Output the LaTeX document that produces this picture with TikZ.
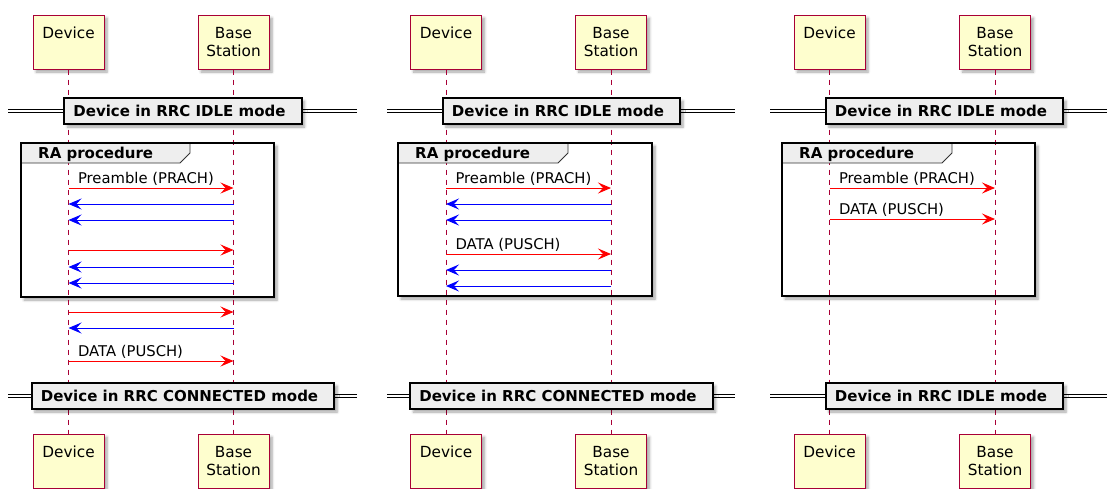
\documentclass[tikz,border=0pt]{standalone}
\usepackage{fontspec}
\setmainfont{DejaVu Sans}
\usetikzlibrary{arrows.meta, shadows.blur}
\definecolor{lifered}{HTML}{A80036}
\definecolor{partyellow}{HTML}{FEFECE}
\definecolor{bargray}{HTML}{EEEEEE}
\definecolor{ulred}{HTML}{FF0000}
\definecolor{dlblue}{HTML}{0000FF}
\newcommand{\partfont}{\fontsize{15.3}{18}\selectfont}
\newcommand{\msgfont}{\fontsize{14.8}{17}\selectfont}
\newcommand{\barfont}{\fontsize{15}{18}\selectfont\bfseries}

\begin{document}
\begin{tikzpicture}[x=1pt, y=-1pt, >={Stealth[length=13pt, width=11pt, inset=5pt]},
  shade box/.style={blur shadow={shadow xshift=3pt, shadow yshift=-3pt,
    shadow blur radius=2.5pt, shadow blur steps=6, shadow opacity=35}},
  part/.style={draw=lifered, fill=partyellow, line width=1pt, minimum width=71pt,
    minimum height=54pt, inner sep=0pt, align=center, font=\partfont, shade box},
  lifeline/.style={draw=lifered, line width=0.9pt, dash pattern=on 5pt off 5pt},
  separator/.style={line width=1.2pt, double=white, double distance=2pt},
  divider/.style={draw=black, line width=2pt, fill=bargray, minimum height=26pt,
    inner xsep=9pt, inner ysep=0pt, font=\barfont,
    execute at end node={\hspace{7pt}}, shade box},
  frame/.style={draw=black, line width=2pt},
  tab/.style={draw=black!80, line width=0.8pt, fill=bargray},
  grouptitle/.style={anchor=base west, inner sep=0pt, font=\barfont},
  uplink/.style={->, ulred, line width=1pt},
  downlink/.style={->, dlblue, line width=1pt},
  msg/.style={pos=0, anchor=base west, xshift=9pt, yshift=4.5pt, inner sep=0pt,
    font=\msgfont, text=black}
]
  \useasboundingbox (0,0) rectangle (1107,488);

  %% ---------------- left panel: four-step RA ----------------
  \node[part] (devA)  at (68.5,42)  {Device\\\mbox{}};
  \node[part] (bsA)   at (233.5,42) {Base\\Station};
  \node[part] (devAe) at (68.5,461) {Device\\\mbox{}};
  \node[part] (bsAe)  at (233.5,461) {Base\\Station};

  % group background, then lifelines through it
  \fill[white, shade box] (21,143) rectangle (274,297);
  \draw[lifeline] (devA) -- (devAe);
  \draw[lifeline] (bsA) -- (bsAe);
  \filldraw[tab] (21,143) -- (190,143) -- (190,153) -- (180,163) -- (21,163) -- cycle;
  \draw[frame] (21,143) rectangle (274,297);
  \node[grouptitle] (raA) at (38,158) {RA procedure};

  % state bars
  \draw[separator] (8,111) -- (357,111);
  \node[divider] (idleA) at (183,111) {Device in RRC IDLE mode};
  \draw[separator] (8,396) -- (357,396);
  \node[divider] (connA) at (183,396) {Device in RRC CONNECTED mode};

  % messages
  \foreach \y [count=\i] in {188,204,220,250,267,283,312,328,361} {
    \coordinate (dA\i) at (devA |- 0,\y);
    \coordinate (bA\i) at (bsA |- 0,\y);
  }
  \draw[uplink] (dA1) -- node[msg] (preA) {Preamble (PRACH)} (bA1);
  \draw[downlink] (bA2) -- (dA2);
  \draw[downlink] (bA3) -- (dA3);
  \draw[uplink] (dA4) -- (bA4);
  \draw[downlink] (bA5) -- (dA5);
  \draw[downlink] (bA6) -- (dA6);
  \draw[uplink] (dA7) -- (bA7);
  \draw[downlink] (bA8) -- (dA8);
  \draw[uplink] (dA9) -- node[msg] (dataA) {DATA (PUSCH)} (bA9);

  %% ---------------- middle panel: data inside RA ----------------
  \node[part] (devB)  at (446,42)  {Device\\\mbox{}};
  \node[part] (bsB)   at (611,42)  {Base\\Station};
  \node[part] (devBe) at (446,461) {Device\\\mbox{}};
  \node[part] (bsBe)  at (611,461) {Base\\Station};

  \fill[white, shade box] (398,143) rectangle (652,296);
  \draw[lifeline] (devB) -- (devBe);
  \draw[lifeline] (bsB) -- (bsBe);
  \filldraw[tab] (398,143) -- (568,143) -- (568,153) -- (558,163) -- (398,163) -- cycle;
  \draw[frame] (398,143) rectangle (652,296);
  \node[grouptitle] (raB) at (415,158) {RA procedure};

  \draw[separator] (387,111) -- (735,111);
  \node[divider] (idleB) at (561.5,111) {Device in RRC IDLE mode};
  \draw[separator] (387,396) -- (735,396);
  \node[divider] (connB) at (561.5,396) {Device in RRC CONNECTED mode};

  \foreach \y [count=\i] in {188,204,220,254,270,286} {
    \coordinate (dB\i) at (devB |- 0,\y);
    \coordinate (bB\i) at (bsB |- 0,\y);
  }
  \draw[uplink] (dB1) -- node[msg] (preB) {Preamble (PRACH)} (bB1);
  \draw[downlink] (bB2) -- (dB2);
  \draw[downlink] (bB3) -- (dB3);
  \draw[uplink] (dB4) -- node[msg] (dataB) {DATA (PUSCH)} (bB4);
  \draw[downlink] (bB5) -- (dB5);
  \draw[downlink] (bB6) -- (dB6);

  %% ---------------- right panel: data with preamble ----------------
  \node[part] (devC)  at (829.5,42)  {Device\\\mbox{}};
  \node[part] (bsC)   at (995,42)    {Base\\Station};
  \node[part] (devCe) at (829.5,461) {Device\\\mbox{}};
  \node[part] (bsCe)  at (995,461)   {Base\\Station};

  \fill[white, shade box] (782,143) rectangle (1035,296);
  \draw[lifeline] (devC) -- (devCe);
  \draw[lifeline] (bsC) -- (bsCe);
  \filldraw[tab] (782,143) -- (952,143) -- (952,153) -- (942,163) -- (782,163) -- cycle;
  \draw[frame] (782,143) rectangle (1035,296);
  \node[grouptitle] (raC) at (799,158) {RA procedure};

  \draw[separator] (770,111) -- (1120,111);
  \node[divider] (idleC) at (944.5,111) {Device in RRC IDLE mode};
  \draw[separator] (770,396) -- (1120,396);
  \node[divider] (idleCe) at (944.5,396) {Device in RRC IDLE mode};

  \foreach \y [count=\i] in {188,219} {
    \coordinate (dC\i) at (devC |- 0,\y);
    \coordinate (bC\i) at (bsC |- 0,\y);
  }
  \draw[uplink] (dC1) -- node[msg] (preC) {Preamble (PRACH)} (bC1);
  \draw[uplink] (dC2) -- node[msg] (dataC) {DATA (PUSCH)} (bC2);
\end{tikzpicture}
\end{document}
